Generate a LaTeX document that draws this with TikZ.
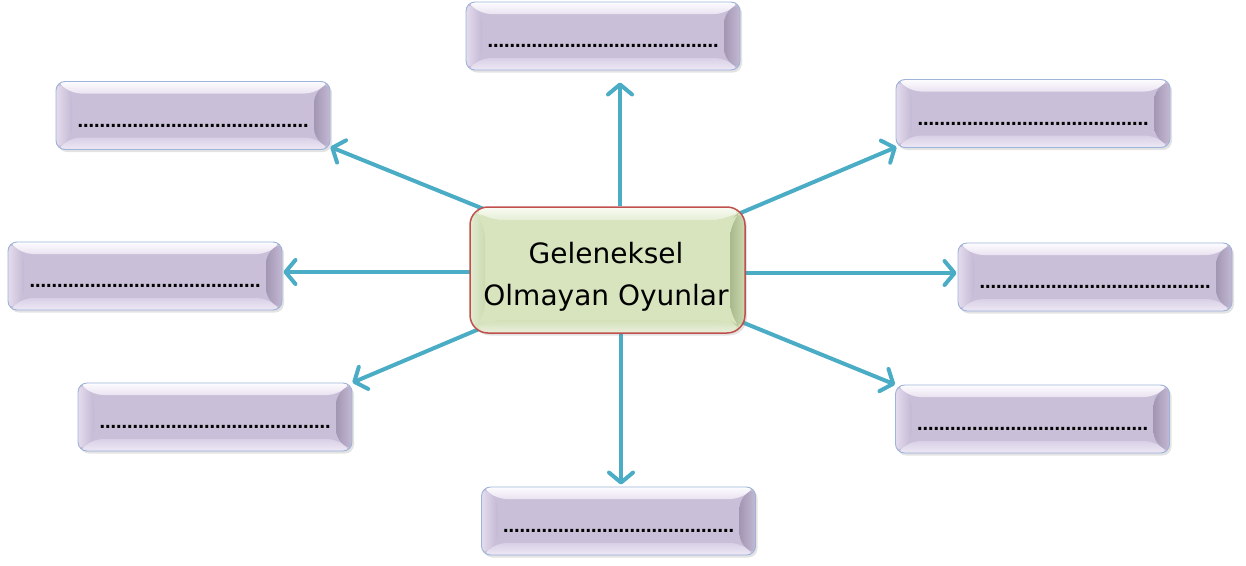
\documentclass[tikz,border=0pt]{standalone}
\usepackage{fontspec}
\setmainfont{DejaVu Sans}
\newfontfamily\dotfont{DejaVu Sans}
\usetikzlibrary{arrows.meta,calc,shadows,backgrounds}
\definecolor{arrowc}{HTML}{4BACC6}
\definecolor{sl-border}{HTML}{9DB3D9}
\definecolor{sl-face}{HTML}{C9BFD8}
\definecolor{sl-t1}{HTML}{FDFCFE}
\definecolor{sl-t2}{HTML}{E9E3F1}
\definecolor{sl-b1}{HTML}{D9D0E6}
\definecolor{sl-b2}{HTML}{EDE8F5}
\definecolor{sl-l1}{HTML}{E4DCEE}
\definecolor{sl-l2}{HTML}{C4B9D4}
\definecolor{sl-r1}{HTML}{A296B3}
\definecolor{sl-r2}{HTML}{C4B9D3}
\definecolor{ce-border}{HTML}{C0504D}
\definecolor{ce-face}{HTML}{D7E4BD}
\definecolor{ce-t1}{HTML}{F9FBF3}
\definecolor{ce-t2}{HTML}{E6EED6}
\definecolor{ce-b1}{HTML}{D3E0B8}
\definecolor{ce-b2}{HTML}{EAF0DE}
\definecolor{ce-l1}{HTML}{E3ECD2}
\definecolor{ce-l2}{HTML}{CCDAB0}
\definecolor{ce-r1}{HTML}{A9B98C}
\definecolor{ce-r2}{HTML}{CBD9AF}
\newcommand\mybevel[3]{%
  \coordinate (bnw) at (path picture bounding box.north west);
  \coordinate (bne) at (path picture bounding box.north east);
  \coordinate (bsw) at (path picture bounding box.south west);
  \coordinate (bse) at (path picture bounding box.south east);
  \coordinate (inw) at ($(bnw)+(#2,-#3)$);
  \coordinate (ine) at ($(bne)+(-#2,-#3)$);
  \coordinate (isw) at ($(bsw)+(#2,#3)$);
  \coordinate (ise) at ($(bse)+(-#2,#3)$);
  \shade[top color=#1-t1, bottom color=#1-t2] (bnw)--(bne)--(ine)--(inw)--cycle;
  \shade[top color=#1-b1, bottom color=#1-b2] (bsw)--(bse)--(ise)--(isw)--cycle;
  \shade[left color=#1-l1, right color=#1-l2] (bnw)--(inw)--(isw)--(bsw)--cycle;
  \shade[left color=#1-r1, right color=#1-r2, shading angle=90] (bne)--(ine)--(ise)--(bse)--cycle;
}
\newcommand\tri{…}
\newcommand\tritrio{\tri\tri\tri}
\newcommand\dotline{{\dotfont\bfseries\fontsize{16.5}{18}\selectfont
\tritrio\tritrio\tritrio\tritrio\tri\tri}}
\tikzset{
  slot/.style={minimum width=274pt, minimum height=68pt, inner sep=0pt,
    rounded corners=9pt, draw=sl-border, line width=0.9pt, fill=sl-face,
    drop shadow={opacity=0.22, shadow xshift=2pt, shadow yshift=-2.5pt},
    path picture={\mybevel{sl}{16pt}{12pt}}},
  centre/.style={minimum width=275pt, minimum height=126pt, inner sep=0pt,
    rounded corners=18pt, draw=ce-border, line width=1.5pt, fill=ce-face,
    drop shadow={opacity=0.22, shadow xshift=2pt, shadow yshift=-2.5pt},
    path picture={\mybevel{ce}{15pt}{13pt}}},
  dots/.style={anchor=base, inner sep=0pt},
  ctext/.style={anchor=base, inner sep=0pt, align=center,
    font=\fontsize{28}{42}\selectfont},
  arr/.style={draw=arrowc, line width=4pt,
    -{Straight Barb[length=10pt,width=24pt,round]}},
}
\begin{document}
\begin{tikzpicture}[x=1pt,y=-1pt]
\useasboundingbox (0,0) rectangle (1246,565);
% boxes
\node[slot] (t)  at (603,36) {};
\node[slot] (tl) at (193,115.5) {};
\node[slot] (tr) at (1033,113.5) {};
\node[slot] (l)  at (145,276) {};
\node[slot] (r)  at (1095,277) {};
\node[slot] (bl) at (215,417) {};
\node[slot] (br) at (1032.5,419) {};
\node[slot] (b)  at (618.5,521) {};
\node[centre] (c) at (607.5,270) {};
% texts
\node[dots] (t-d)  at ($(t.north)+(0,-46pt)$) {\dotline};
\node[dots] (tl-d) at ($(tl.north)+(0,-46pt)$) {\dotline};
\node[dots] (tr-d) at ($(tr.north)+(0,-46pt)$) {\dotline};
\node[dots] (l-d)  at ($(l.north)+(0,-46pt)$) {\dotline};
\node[dots] (r-d)  at ($(r.north)+(0,-46pt)$) {\dotline};
\node[dots] (bl-d) at ($(bl.north)+(0,-46pt)$) {\dotline};
\node[dots] (br-d) at ($(br.north)+(0,-46pt)$) {\dotline};
\node[dots] (b-d)  at ($(b.north)+(0,-46pt)$) {\dotline};
\node[ctext] (c-t) at (606,305) {Geleneksel\\Olmayan Oyunlar};
% arrows
\begin{scope}[on background layer]
\draw[arr] ($(c.north)+(12.5pt,0)$) -- ($(t.south)+(17pt,-12pt)$);
\draw[arr] ($(c.south)+(13.5pt,0)$) -- ($(b.north)+(2.5pt,2pt)$);
\draw[arr] ($(c.north west)+(20pt,-5pt)$) -- ($(tl.south east)+(0,3pt)$);
\draw[arr] ($(c.north east)+(-20pt,-13pt)$) -- ($(tr.south west)+(1pt,1pt)$);
\draw[arr] ($(c.east)+(-5pt,-3pt)$) -- ($(r.west)+(-1pt,4pt)$);
\draw[arr] ($(c.west)+(5pt,-2pt)$) -- ($(l.east)+(1pt,4pt)$);
\draw[arr] ($(c.south east)+(-17pt,17pt)$) -- ($(br.north west)+(0,0)$);
\draw[arr] ($(c.south west)+(20pt,9pt)$) -- ($(bl.north east)+(0,0)$);
\end{scope}
\end{tikzpicture}
\end{document}
